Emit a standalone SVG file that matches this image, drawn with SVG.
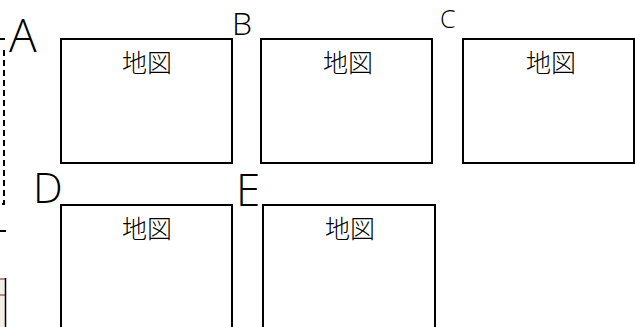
<svg xmlns="http://www.w3.org/2000/svg" width="635" height="327" viewBox="0 0 635 327">
<style>
.box{fill:#fff;stroke:#000;stroke-width:2}
.lbl{font-family:"Noto Sans CJK JP","Noto Sans",sans-serif;font-size:25px;font-weight:300;fill:#000;text-anchor:middle}
.hand{font-family:"Open Sans","Lato","DejaVu Sans",sans-serif;font-weight:300;fill:#000}
</style>
<rect width="635" height="327" fill="#fff"/>
<g id="frame-left">
<line x1="0" y1="39" x2="5" y2="39" stroke="#000" stroke-width="2"/>
<path d="M4 50 V204 H0" fill="none" stroke="#000" stroke-width="2" stroke-dasharray="6,4"/>
<line x1="0" y1="231" x2="6" y2="231" stroke="#000" stroke-width="2"/>
<rect x="0" y="278" width="5" height="49" fill="#f3efe6"/>
<line x1="0" y1="279" x2="5" y2="279" stroke="#9a7060" stroke-width="1.5"/>
<line x1="0" y1="295" x2="5" y2="295" stroke="#9a7060" stroke-width="1.5"/>
<line x1="5.5" y1="278" x2="5.5" y2="327" stroke="#000" stroke-width="1.5"/>
</g>
<g id="nodeA">
<rect class="box" x="61" y="39" width="171" height="124"/>
<text class="lbl" x="147" y="72">地図</text>
<text class="hand" x="9" y="52" font-size="46">A</text>
</g>
<g id="nodeB">
<rect class="box" x="261" y="39" width="171" height="124"/>
<text class="lbl" x="348" y="72">地図</text>
<text class="hand" x="232" y="35" font-size="32">B</text>
</g>
<g id="nodeC">
<rect class="box" x="463" y="39" width="171" height="124"/>
<text class="lbl" x="551" y="72">地図</text>
<text class="hand" x="440" y="28" font-size="25">C</text>
</g>
<g id="nodeD">
<rect class="box" x="61" y="205" width="171" height="140"/>
<text class="lbl" x="147" y="238">地図</text>
<text class="hand" x="33" y="203" font-size="42">D</text>
</g>
<g id="nodeE">
<rect class="box" x="263" y="205" width="172" height="140"/>
<text class="lbl" x="350" y="238">地図</text>
<text class="hand" x="236" y="206" font-size="44">E</text>
</g>
<g id="connectors"></g>
</svg>
